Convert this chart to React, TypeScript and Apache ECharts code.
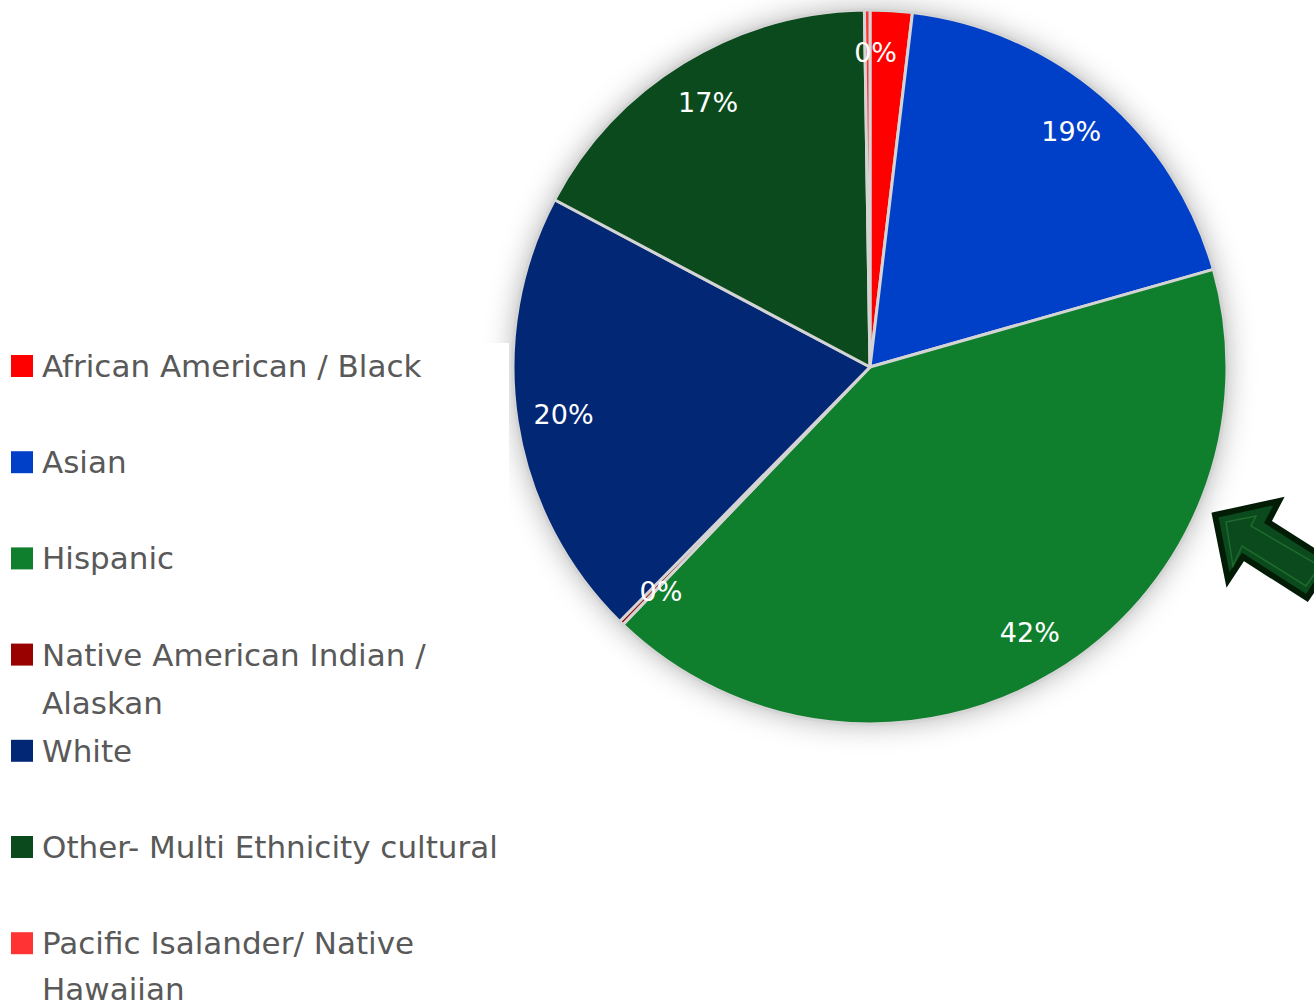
import React, { useEffect, useRef } from "react";
import * as echarts from "echarts";

const categories = [
  "African American / Black",
  "Asian",
  "Hispanic",
  "Native American Indian / Alaskan",
  "White",
  "Other- Multi Ethnicity cultural",
  "Pacific Isalander/ Native Hawaiian",
];
const values = [1.9, 18.7, 41.6, 0.2, 20.4, 17.0, 0.25];
const colors = ["#FF0000", "#0040C8", "#107F2D", "#990000", "#022875", "#0B4A1C", "#FF3333"];
const legendLines = [
  ["African American / Black"],
  ["Asian"],
  ["Hispanic"],
  ["Native American Indian /", "Alaskan"],
  ["White"],
  ["Other- Multi Ethnicity cultural"],
  ["Pacific Isalander/ Native", "Hawaiian"],
];
const showPctLabel = [false, true, true, true, true, true, true];

const CX = 870;
const CY = 367;
const R = 357;

export default function App() {
  const ref = useRef<HTMLDivElement>(null);
  useEffect(() => {
    if (!ref.current) return;
    const chart = echarts.init(ref.current, null, { renderer: "svg" });
    const font = "DejaVu Sans";

    const legends = categories.map((name, i) => {
      const c = 366 + 96.2 * i;
      const lines = legendLines[i];
      const wrapped = lines.length > 1;
      const lh = i === categories.length - 1 ? 46 : 48;
      // for wrapped names, a leading empty line keeps the first line level with the icon
      const text = wrapped ? "\n" + lines.join("\n") : lines[0];
      return {
        orient: "vertical",
        left: 11,
        top: wrapped ? c - 1.5 * lh : c - lh / 2,
        padding: 0,
        icon: "rect",
        itemWidth: 22,
        itemHeight: 22,
        selectedMode: false,
        itemStyle: { borderWidth: 0 },
        data: [{ name, itemStyle: { color: colors[i], borderWidth: 0 } }],
        formatter: () => text,
        textStyle: {
          fontFamily: font,
          fontSize: 31,
          color: "#595959",
          lineHeight: lh,
          padding: [0, 0, 0, 4],
        },
      };
    });

    const mainData = categories.map((name, i) => ({
      name,
      value: values[i],
      itemStyle: { color: colors[i] },
    }));
    const labelOffsets: Record<number, number[]> = { 3: [7, 2], 6: [8, -4] };
    const labelData = categories.map((name, i) => ({
      name,
      value: values[i],
      label: { show: showPctLabel[i], offset: labelOffsets[i] || [0, 0] },
    }));

    chart.setOption({
      animation: false,
      backgroundColor: "#ffffff",
      legend: legends,
      graphic: [
        {
          type: "rect",
          z: 1.5,
          shape: { x: 0, y: 343, width: 509, height: 700 },
          style: { fill: "#ffffff" },
          silent: true,
        },
        {
          type: "polygon",
          z: 5,
          shape: {
            points: [
              [1215, 515],
              [1279, 501],
              [1268, 522],
              [1331, 562],
              [1307, 598],
              [1243, 557],
              [1228, 580],
            ],
          },
          style: { fill: "#0B4A1C", stroke: "#021C06", lineWidth: 6, lineJoin: "miter" },
          silent: true,
        },
        {
          type: "polygon",
          z: 6,
          shape: {
            points: [
              [1226, 522],
              [1256, 516],
              [1251, 526],
              [1320, 566],
              [1306, 586],
              [1242, 546],
              [1233, 566],
            ],
          },
          style: { fill: "none", stroke: "#1E6B2E", lineWidth: 1.5 },
          silent: true,
        },
      ],
      series: [
        {
          type: "pie",
          name: "shadow",
          z: 1,
          silent: true,
          center: [CX, CY],
          radius: R - 2,
          label: { show: false },
          labelLine: { show: false },
          emphasis: { disabled: true },
          itemStyle: {
            color: "#ffffff",
            shadowBlur: 30,
            shadowColor: "rgba(0,0,0,0.35)",
          },
          data: [{ name: "__shadow", value: 1 }],
        },
        {
          type: "pie",
          name: "Ethnicity",
          z: 2,
          center: [CX, CY],
          radius: R,
          startAngle: 90,
          clockwise: true,
          label: { show: false },
          labelLine: { show: false },
          emphasis: { disabled: true },
          itemStyle: { borderColor: "#D4D4D4", borderWidth: 3 },
          data: mainData,
        },
        {
          type: "pie",
          name: "labels",
          z: 3,
          silent: true,
          center: [CX, CY],
          radius: [R * 0.72, R],
          startAngle: 90,
          clockwise: true,
          emphasis: { disabled: true },
          itemStyle: { color: "rgba(0,0,0,0)", borderWidth: 0 },
          labelLine: { show: false },
          label: {
            show: true,
            position: "inside",
            color: "#ffffff",
            fontFamily: font,
            fontSize: 27,
            formatter: (p: any) => Math.round(p.percent) + "%",
          },
          data: labelData,
        },
      ],
    });
    return () => chart.dispose();
  }, []);
  return (
    <div
      ref={ref}
      style={{ position: "absolute", left: 0, top: 0, width: 1314, height: 1005 }}
    />
  );
}
